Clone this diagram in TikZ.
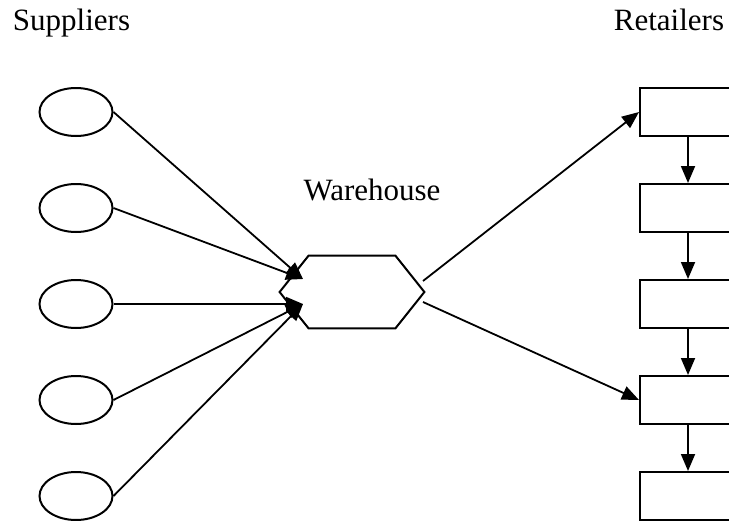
\documentclass[tikz,border=0pt]{standalone}
\usepackage{fontspec}
\setmainfont{Liberation Serif}
\usetikzlibrary{positioning}
\usetikzlibrary{arrows.meta}
\usetikzlibrary{shapes.geometric}
\tikzset{
  supplier/.style={ellipse, draw, line width=1pt, minimum width=36.5pt, minimum height=24pt, inner sep=0pt},
  retailer/.style={rectangle, draw, line width=1pt, minimum width=48pt, minimum height=24pt, inner sep=0pt},
  flow/.style={line width=0.9pt, -{Triangle[length=8.5pt,width=7pt]}},
  heading/.style={font={\fontsize{15.5}{18}\selectfont}, anchor=base},
}

\begin{document}
\begin{tikzpicture}[x=0.5pt,y=-0.5pt]
    \useasboundingbox (0,0) rectangle (729,520);
    \clip (0,0) rectangle (729,520);

    % titles
    \node[heading] (suplabel) at (71.5,30) {Suppliers};
    \node[heading] (retlabel) at (669,30) {Retailers};
    \node[heading] (whlabel) at (372,200) {Warehouse};

    % suppliers and retailers
    \foreach \i in {1,...,5}{
        \node[supplier] (s\i) at (76,16+96*\i) {};
        \node[retailer] (r\i) at (688,16+96*\i) {};
    }

    % warehouse
    \node[minimum width=72pt, minimum height=36pt, inner sep=0pt] (wh) at (352,292) {};
    \draw[line width=1pt] (wh.west) -- ([xshift=14.5pt]wh.north west)
        -- ([xshift=-14.5pt]wh.north east) -- (wh.east)
        -- ([xshift=-14.5pt]wh.south east) -- ([xshift=14.5pt]wh.south west) -- cycle;
    \coordinate (in1) at (303,279);
    \coordinate (in2) at (303,304);
    \coordinate (out1) at (423,281);
    \coordinate (out2) at (423,302);

    % flows
    \foreach \i in {1,2} \draw[flow] (s\i.east) -- (in1);
    \foreach \i in {3,4,5} \draw[flow] (s\i.east) -- (in2);
    \draw[flow] (out1) -- (r1.west);
    \draw[flow] (out2) -- (r4.west);
    \foreach \i [evaluate=\i as \j using int(\i+1)] in {1,...,4}
        \draw[flow] (r\i.south) -- (r\j.north);
\end{tikzpicture}
\end{document}
